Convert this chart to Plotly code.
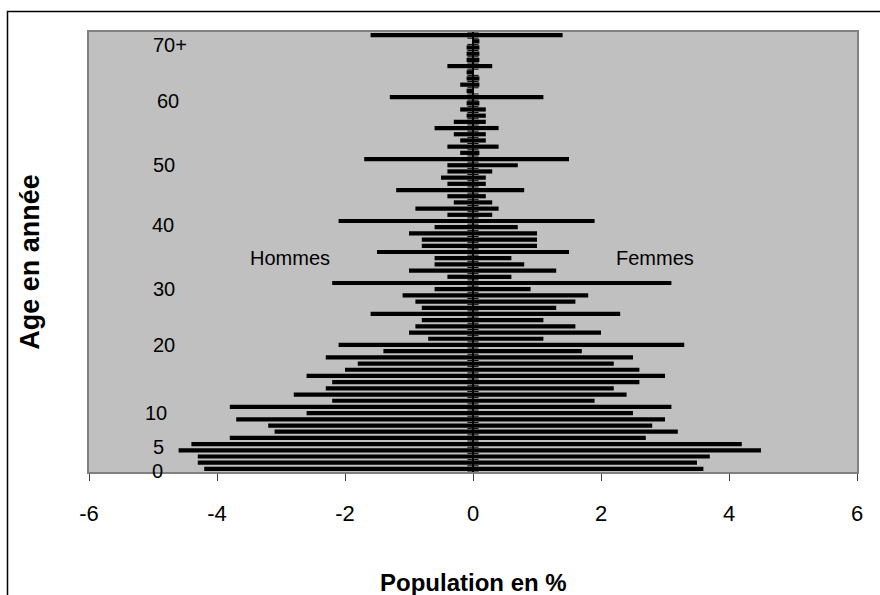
import plotly.graph_objects as go

# ---- data -------------------------------------------------------------
ages = list(range(0, 71))  # 70 = "70+"
hommes = [-4.2, -4.3, -4.3, -4.6, -4.4, -3.8, -3.1, -3.2, -3.7, -2.6,
          -3.8, -2.2, -2.8, -2.3, -2.2, -2.6, -2.0, -1.8, -2.3, -1.4,
          -2.1, -0.7, -1.0, -0.9, -0.8, -1.6, -0.8, -0.9, -1.1, -0.6,
          -2.2, -0.4, -1.0, -0.6, -0.6, -1.5, -0.8, -0.8, -1.0, -0.6,
          -2.1, -0.4, -0.9, -0.3, -0.4, -1.2, -0.4, -0.5, -0.4, -0.4,
          -1.7, -0.2, -0.4, -0.2, -0.3, -0.6, -0.3, -0.1, -0.2, -0.1,
          -1.3, -0.1, -0.2, -0.1, -0.1, -0.4, -0.1, -0.1, -0.1, 0.0,
          -1.6]
femmes = [3.6, 3.5, 3.7, 4.5, 4.2, 2.7, 3.2, 2.8, 3.0, 2.5,
          3.1, 1.9, 2.4, 2.2, 2.6, 3.0, 2.6, 2.2, 2.5, 1.7,
          3.3, 1.1, 2.0, 1.6, 1.1, 2.3, 1.3, 1.6, 1.8, 0.9,
          3.1, 0.6, 1.3, 0.8, 0.6, 1.5, 1.0, 1.0, 1.0, 0.7,
          1.9, 0.3, 0.4, 0.3, 0.2, 0.8, 0.2, 0.2, 0.3, 0.7,
          1.5, 0.1, 0.4, 0.2, 0.2, 0.4, 0.2, 0.2, 0.2, 0.1,
          1.1, 0.0, 0.1, 0.1, 0.0, 0.3, 0.1, 0.1, 0.1, 0.1,
          1.4]
age_labels = ["0", "5", "10", "20", "30", "40", "50", "60", "70+"]
x_ticks = [-6, -4, -2, 0, 2, 4, 6]

# ---- styling / layout -------------------------------------------------
FONT = "Arial, Liberation Sans, sans-serif"
label_y = [-0.3, 3.6, 9.1, 20.0, 29.0, 39.3, 49.1, 59.3, 68.4]
label_x = [-4.93, -4.92, -4.96, -4.83, -4.83, -4.84, -4.83, -4.76, -4.73]

fig = go.Figure()
fig.add_trace(go.Bar(y=ages, x=hommes, orientation="h", name="Hommes",
                     marker=dict(color="black", line=dict(width=0))))
fig.add_trace(go.Bar(y=ages, x=femmes, orientation="h", name="Femmes",
                     marker=dict(color="black", line=dict(width=0))))
# category tick marks on the zero axis
fig.add_trace(go.Scatter(x=[0] * (len(ages) + 1), y=[a - 0.5 for a in ages] + [ages[-1] + 0.5],
                         mode="markers", hoverinfo="skip",
                         marker=dict(symbol="line-ew", size=8,
                                     line=dict(color="black", width=1))))

annotations = []
for t, xx, yy in zip(age_labels, label_x, label_y):
    annotations.append(dict(text=t, x=xx, y=yy, xref="x", yref="y",
                            showarrow=False, font=dict(family=FONT, size=20, color="black")))
annotations.append(dict(text="Hommes", x=-2.86, y=34.0, xref="x", yref="y",
                        showarrow=False, font=dict(family=FONT, size=20, color="black")))
annotations.append(dict(text="Femmes", x=2.84, y=34.0, xref="x", yref="y",
                        showarrow=False, font=dict(family=FONT, size=20, color="black")))
annotations.append(dict(text="<b>Population en %</b>", x=0.5, y=-0.252, xref="paper", yref="paper",
                        showarrow=False, yanchor="middle",
                        font=dict(family=FONT, size=24, color="black")))
annotations.append(dict(text="<b>Age en année</b>", x=-0.0768, y=0.478, xref="paper", yref="paper",
                        showarrow=False, textangle=-90, xanchor="center", yanchor="middle",
                        font=dict(family=FONT, size=27, color="black")))

L, R, T, B = 89, 23, 32, 123
W, H = 880, 595
pw, ph = W - L - R, H - T - B

def px_x(p):
    return (p - L) / pw

def px_y(p):
    return (H - B - p) / ph

fig.update_layout(
    width=W, height=H,
    margin=dict(l=L, r=R, t=T, b=B, pad=0),
    paper_bgcolor="white", plot_bgcolor="#C0C0C0",
    barmode="overlay", bargap=0.32,
    showlegend=False,
    annotations=annotations,
    shapes=[dict(type="rect", xref="paper", yref="paper",
                 x0=px_x(7.5), x1=px_x(890), y0=px_y(605), y1=px_y(11.5),
                 line=dict(color="black", width=1.5), fillcolor="rgba(0,0,0,0)",
                 layer="below")],
    xaxis=dict(range=[-6, 6], tickvals=x_ticks, ticktext=[str(v) for v in x_ticks],
               showgrid=False, zeroline=True, zerolinecolor="black", zerolinewidth=2,
               showline=True, linecolor="#808080", linewidth=1.5, mirror=True,
               ticks="outside", ticklen=7, tickcolor="#404040", tickwidth=1,
               ticklabelstandoff=14,
               tickfont=dict(family=FONT, size=22, color="black")),
    yaxis=dict(range=[-0.5, 70.5], showticklabels=False, showgrid=False, zeroline=False,
               showline=True, linecolor="#808080", linewidth=1.5, mirror=True, ticks=""),
)

fig.write_html("out.html")
